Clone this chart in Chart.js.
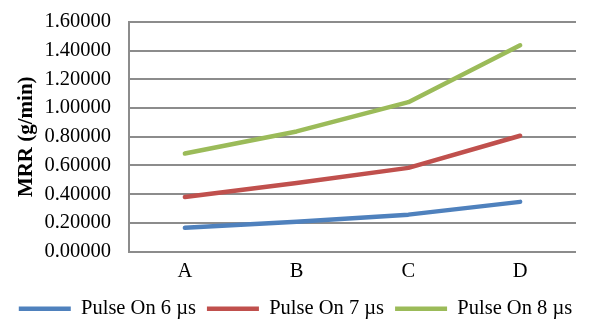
<!DOCTYPE html>
<html>
<head>
<meta charset="utf-8">
<script src="https://cdn.jsdelivr.net/npm/chart.js@4.4.0/dist/chart.umd.min.js"></script>
<style>
  body { margin: 0; background: #fff; }
  #wrap { width: 591px; height: 323px; }
</style>
</head>
<body>
<div id="wrap"><canvas id="mrrChart"></canvas></div>
<script>
// categories on the x axis
const categories = ['A', 'B', 'C', 'D'];

// MRR (g/min) for each pulse on time
const pulseOn6 = [0.165, 0.207, 0.257, 0.346];
const pulseOn7 = [0.380, 0.477, 0.583, 0.807];
const pulseOn8 = [0.683, 0.837, 1.041, 1.438];

const seriesNames = ['Pulse On 6 \u00b5s', 'Pulse On 7 \u00b5s', 'Pulse On 8 \u00b5s'];
const seriesColors = ['#4F81BD', '#C0504D', '#9BBB59'];

const fontFamily = '"Liberation Serif", "Times New Roman", serif';

function makeSet(i, values) {
  return {
    label: seriesNames[i],
    data: values,
    borderColor: seriesColors[i],
    backgroundColor: seriesColors[i],
    borderWidth: 4.5,
    borderCapStyle: 'round',
    borderJoinStyle: 'round',
    pointRadius: 0,
    pointHoverRadius: 0,
    tension: 0,
    fill: false,
    yAxisID: 'y'
  };
}

// nudge the legend row down to where the original has it
const legendShift = {
  id: 'legendShift',
  afterLayout(chart) {
    chart.legend.top += 6;
    chart.legend.bottom += 6;
  }
};

new Chart(document.getElementById('mrrChart'), {
  type: 'line',
  data: {
    labels: categories,
    datasets: [makeSet(0, pulseOn6), makeSet(1, pulseOn7), makeSet(2, pulseOn8)]
  },
  plugins: [legendShift],
  options: {
    responsive: true,
    maintainAspectRatio: false,
    animation: false,
    layout: { padding: { top: 22, right: 0, left: 0, bottom: 0 } },
    plugins: {
      tooltip: { enabled: false },
      legend: {
        position: 'bottom',
        labels: {
          usePointStyle: true,
          pointStyle: 'line',
          pointStyleWidth: 52,
          color: '#000',
          padding: 11,
          font: { family: fontFamily, size: 20.5 }
        }
      }
    },
    scales: {
      x: {
        offset: true,
        afterFit: function(scale) { scale.height = 30; },
        grid: { display: false, drawTicks: false },
        border: { display: false },
        ticks: { color: '#000', padding: 8, font: { family: fontFamily, size: 20.5 } }
      },
      y: {
        min: 0,
        max: 1.6,
        afterFit: function(scale) {
          scale.width = 129;
          scale.paddingTop = 0;
        },
        grid: { color: '#8C8C8C', lineWidth: 2, drawTicks: false },
        border: { display: true, color: '#8C8C8C', width: 2 },
        ticks: {
          stepSize: 0.2,
          autoSkip: false,
          color: '#000',
          padding: 18,
          font: { family: fontFamily, size: 20.5 },
          callback: function(v) { return v.toFixed(5); }
        },
        title: {
          display: true,
          text: 'MRR (g/min)',
          color: '#000',
          padding: { top: 14, bottom: 0 },
          font: { family: fontFamily, size: 21, weight: 'bold' }
        }
      },
      // empty axis on the right, only to keep the plot off the right edge
      yRight: {
        position: 'right',
        afterFit: function(scale) { scale.width = 15; },
        grid: { display: false, drawTicks: false },
        border: { display: false },
        ticks: { display: false }
      }
    }
  }
});
</script>
</body>
</html>
